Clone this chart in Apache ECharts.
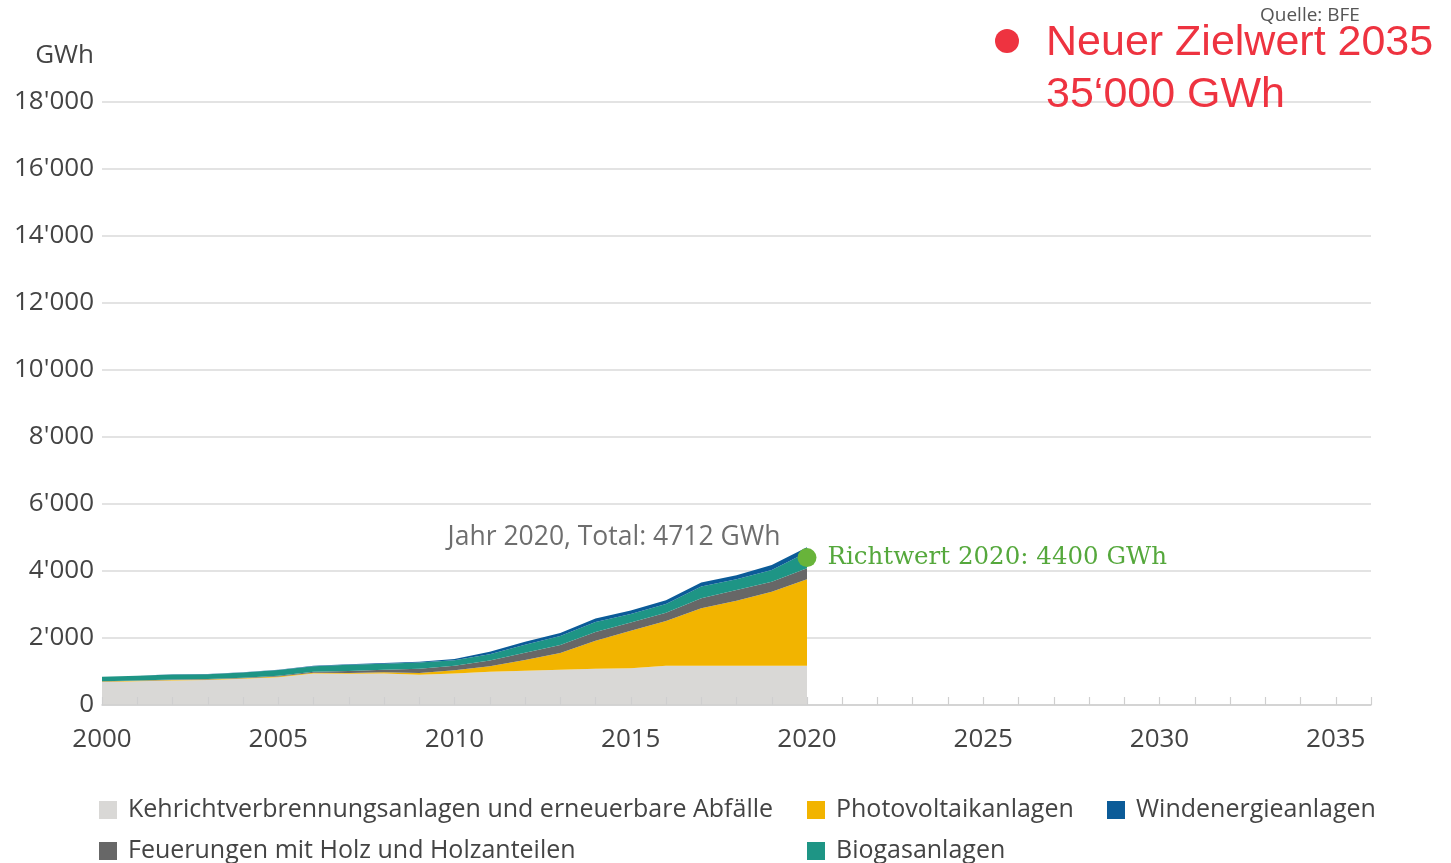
<!DOCTYPE html>
<html>
<head>
<meta charset="utf-8">
<script src="https://cdn.jsdelivr.net/npm/echarts@6/dist/echarts.min.js"></script>
<style>
html,body{margin:0;padding:0;background:#fff;}
#chart{width:1451px;height:863px;}
</style>
</head>
<body>
<div id="chart"></div>
<script>
const years = [2000,2001,2002,2003,2004,2005,2006,2007,2008,2009,2010,2011,2012,2013,2014,2015,2016,2017,2018,2019,2020];
const axisYears = [2000,2001,2002,2003,2004,2005,2006,2007,2008,2009,2010,2011,2012,2013,2014,2015,2016,2017,2018,
                   2019,2020,2021,2022,2023,2024,2025,2026,2027,2028,2029,2030,2031,2032,2033,2034,2035,2036];
const kehricht = [690,710,735,745,780,830,940,930,940,900,940,990,1020,1050,1080,1100,1170,1170,1170,1170,1170];
const photovoltaik = [11,13,15,17,19,22,24,28,34,54,94,168,320,500,840,1120,1337,1716,1943,2213,2581];
const holz = [10,10,12,15,18,20,30,60,80,130,140,170,220,240,260,240,250,300,320,298,329];
const biogas = [130,140,150,140,150,170,165,180,180,185,165,190,240,270,300,260,260,350,318,349,480];
const wind = [3,3,5,5,9,8,15,16,19,23,37,70,88,90,101,100,110,120,120,149,152];
const yTicks = [0,2000,4000,6000,8000,10000,12000,14000,16000,18000];
const xTickLabels = [2000,2005,2010,2015,2020,2025,2030,2035];
const richtwertYear = 2020, richtwertValue = 4400;
const names = {
  k: 'Kehrichtverbrennungsanlagen und erneuerbare Abfälle',
  h: 'Feuerungen mit Holz und Holzanteilen',
  p: 'Photovoltaikanlagen',
  b: 'Biogasanlagen',
  w: 'Windenergieanlagen'
};
const lastIdx = years.length - 1;
const total2020 = kehricht[lastIdx] + photovoltaik[lastIdx] + holz[lastIdx] + biogas[lastIdx] + wind[lastIdx];

const fmtThousands = v => String(v).replace(/\B(?=(\d{3})+(?!\d))/g, "'");

const FONT = '"Open Sans", "Noto Sans", sans-serif';
const TXT = '#444';

function areaSeries(name, arr, color) {
  return {
    name, type: 'line', stack: 'total', data: arr.slice(),
    symbol: 'none', showSymbol: false, smooth: false,
    lineStyle: { width: 0, color }, itemStyle: { color },
    areaStyle: { color, opacity: 1 }, z: 2
  };
}

const legendText = { fontFamily: FONT, fontSize: 25, color: TXT, lineHeight: 26, padding: [0, 0, 0, 6] };
const legendBase = {
  orient: 'vertical', itemWidth: 18, itemHeight: 18, itemGap: 15, height: 120,
  icon: 'rect', textStyle: legendText, selectedMode: false, top: 797, padding: 0
};

const chart = echarts.init(document.getElementById('chart'), null, { renderer: 'canvas' });
chart.setOption({
  animation: false,
  backgroundColor: '#fff',
  grid: { left: 102, right: 80, top: 102, bottom: 158 },
  xAxis: {
    type: 'category', data: axisYears.map(String), boundaryGap: false,
    z: 5,
    axisLine: { show: true, lineStyle: { color: '#cfcfcf', width: 1.5 } },
    axisTick: { show: true, inside: true, length: 8, interval: 0, lineStyle: { color: '#cfcfcf', width: 1.2 } },
    splitLine: { show: false },
    axisLabel: {
      fontFamily: FONT, fontSize: 26, color: TXT, margin: 22,
      interval: (i, v) => xTickLabels.indexOf(Number(v)) >= 0
    }
  },
  yAxis: {
    type: 'value', min: yTicks[0], max: yTicks[yTicks.length - 1], interval: 2000,
    name: 'GWh', nameLocation: 'end', nameGap: 46,
    nameTextStyle: { fontFamily: FONT, fontSize: 26, color: TXT, align: 'right', verticalAlign: 'middle', padding: [0, 8, 0, 0] },
    axisLine: { show: false }, axisTick: { show: false },
    splitLine: { show: true, lineStyle: { color: '#dadada', width: 1.5 } },
    axisLabel: { fontFamily: FONT, fontSize: 26, color: TXT, margin: 8, formatter: v => fmtThousands(v) }
  },
  legend: [
    Object.assign({}, legendBase, { left: 99, data: [names.k, names.h] }),
    Object.assign({}, legendBase, { left: 807, data: [names.p, names.b] }),
    Object.assign({}, legendBase, { left: 1107, data: [names.w] })
  ],
  series: [
    areaSeries(names.k, kehricht, '#d9d8d6'),
    areaSeries(names.p, photovoltaik, '#f2b400'),
    areaSeries(names.h, holz, '#676767'),
    areaSeries(names.b, biogas, '#1e9585'),
    areaSeries(names.w, wind, '#0b5b98'),
    {
      name: 'Total', type: 'scatter', data: [[String(years[lastIdx]), total2020]],
      symbolSize: 1, itemStyle: { color: 'rgba(0,0,0,0)' }, z: 6,
      label: {
        show: true, position: 'left', distance: 26, offset: [0, -10],
        fontFamily: FONT, fontSize: 26.5, color: '#4a4a4a',
        formatter: () => 'Jahr ' + years[lastIdx] + ', Total: ' + total2020 + ' GWh'
      }
    },
    {
      name: 'Richtwert', type: 'scatter', data: [[String(richtwertYear), richtwertValue]],
      symbol: 'circle', symbolSize: 19, itemStyle: { color: '#68b43a', opacity: 1 }, z: 7,
      label: {
        show: true, position: 'right', distance: 11, opacity: 1,
        fontFamily: '"DejaVu Serif", serif', fontSize: 24.5, color: '#55a83c',
        formatter: () => 'Richtwert ' + richtwertYear + ': ' + richtwertValue + ' GWh'
      }
    }
  ],
  graphic: [
    { type: 'text', left: 1260, top: 6, style: { text: 'Quelle: BFE', font: '19px "Open Sans", sans-serif', fill: '#555' } },
    { type: 'circle', shape: { cx: 1007, cy: 41, r: 12 }, style: { fill: '#ee3340' }, z: 10 },
    { type: 'text', z: 10, style: { text: 'Neuer Zielwert 2035', x: 1046, y: 43, verticalAlign: 'middle', font: '43px "Liberation Sans", Arial, sans-serif', fill: '#ee3340' } },
    { type: 'text', z: 10, style: { text: '35\u2018000 GWh', x: 1046, y: 95, verticalAlign: 'middle', font: '43px "Liberation Sans", Arial, sans-serif', fill: '#ee3340' } }
  ]
});
</script>
</body>
</html>
